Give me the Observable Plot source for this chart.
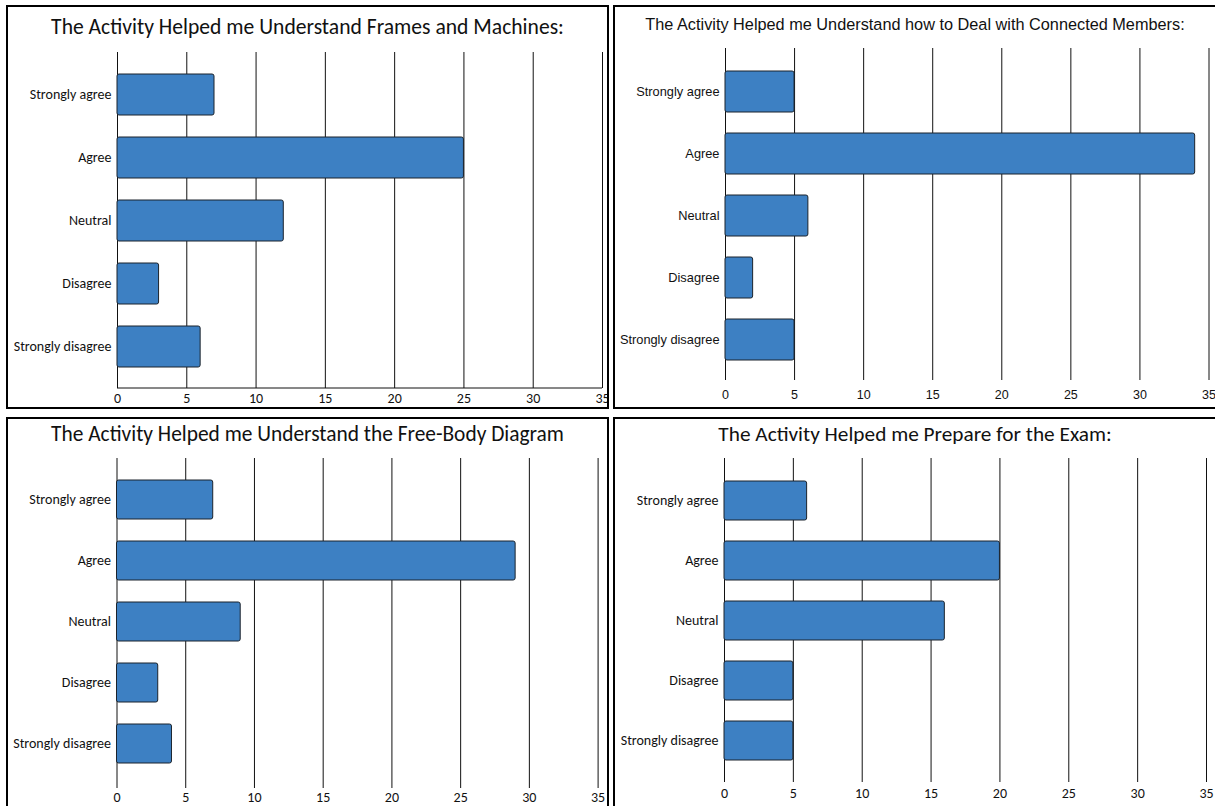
<!DOCTYPE html>
<html>
<head>
<meta charset="utf-8">
<script src="https://cdn.jsdelivr.net/npm/d3@7"></script>
<script src="https://cdn.jsdelivr.net/npm/@observablehq/plot@0.6"></script>
<style>
  html, body { margin: 0; padding: 0; background: #fff; width: 1215px; height: 806px; overflow: hidden; }
  .panel { position: absolute; box-sizing: border-box; border: 2px solid #000; background: #fff; overflow: hidden; }
  .title { text-align: center; white-space: nowrap; color: #111; }
  .calibri { font-family: Carlito, Lato, "Open Sans", sans-serif; }
  .arial { font-family: "Liberation Sans", Arial, sans-serif; }
  svg { display: block; }
  .calibri-panel svg g[aria-label="y-axis tick label"] text { font-size: 14px !important; font-family: Carlito, Lato, sans-serif !important; }
  .calibri-panel svg g[aria-label="x-axis tick label"] text { font-size: 14px !important; font-family: Carlito, Lato, sans-serif !important; }
  .arial-panel svg g[aria-label="y-axis tick label"] text { font-size: 12.8px !important; font-family: "Liberation Sans", Arial, sans-serif !important; }
  .arial-panel svg g[aria-label="x-axis tick label"] text { font-size: 12.5px !important; font-family: "Liberation Sans", Arial, sans-serif !important; }
  svg g[aria-label$="tick label"] text { fill: #111; }
</style>
</head>
<body>
<script>
const categories = ["Strongly agree", "Agree", "Neutral", "Disagree", "Strongly disagree"];
const framesMachines = [7, 25, 12, 3, 6];
const connectedMembers = [5, 34, 6, 2, 5];
const freeBodyDiagram = [7, 29, 9, 3, 4];
const examPreparation = [6, 20, 16, 5, 5];
const xTicks = [0, 5, 10, 15, 20, 25, 30, 35];
const titles = [
  "The Activity Helped me Understand Frames and Machines:",
  "The Activity Helped me Understand how to Deal with Connected Members:",
  "The Activity Helped me Understand the Free-Body Diagram",
  "The Activity Helped me Prepare for the Exam:"
];

const barFill = "#3d80c3";
const barStroke = "#1b232c";

const panels = [
  {values: framesMachines, title: titles[0], font: "calibri", titleSize: 21.6, titleH: 40,
   box: [6, 5, 603, 404], svgH: 360, mt: 5, mb: 19, ml: 109, mr: 5,
   pi: 0.349, po: 0.341, align: 0.51, tickPad: 5, baseLine: true},
  {values: connectedMembers, title: titles[1], font: "arial", titleSize: 16.3, titleH: 34,
   box: [613, 5, 604, 404], svgH: 366, mt: 7, mb: 27, ml: 110, mr: 6.5,
   pi: 0.335, po: 0.33, align: 0.54, tickPad: 10, baseLine: false},
  {values: freeBodyDiagram, title: titles[2], font: "calibri", titleSize: 21.4, titleH: 30,
   box: [6, 417, 603, 400], svgH: 363, mt: 9, mb: 24, ml: 108.5, mr: 9.4,
   pi: 0.354, po: 0.376, align: 0.48, tickPad: 4, baseLine: false},
  {values: examPreparation, title: titles[3], font: "calibri", titleSize: 21.3, titleH: 30,
   box: [613, 417, 604, 400], svgH: 363, mt: 9, mb: 30, ml: 109, mr: 9,
   pi: 0.35, po: 0.337, align: 0.5, tickPad: 6, baseLine: false}
];

const fontStacks = {
  calibri: 'Carlito, Lato, "Open Sans", sans-serif',
  arial: '"Liberation Sans", Arial, sans-serif'
};

for (const p of panels) {
  const [left, top, w, h] = p.box;
  const div = document.createElement("div");
  div.className = "panel " + p.font + "-panel";
  Object.assign(div.style, {left: left + "px", top: top + "px", width: w + "px", height: h + "px"});

  const t = document.createElement("div");
  t.className = "title " + p.font;
  Object.assign(t.style, {height: p.titleH + "px", lineHeight: p.titleH + "px", fontSize: p.titleSize + "px"});
  t.textContent = p.title;
  div.appendChild(t);

  const data = categories.map((c, i) => ({category: c, value: p.values[i]}));
  const innerW = w - 4;

  const marks = [
    Plot.ruleX(xTicks, {stroke: "#111", strokeWidth: 1}),
    Plot.barX(data, {x: "value", y: "category", fill: barFill, stroke: barStroke, strokeWidth: 1, rx: 2})
  ];
  if (p.baseLine) {
    marks.push((index, scales, values, dims) => {
      const ns = "http://www.w3.org/2000/svg";
      const line = document.createElementNS(ns, "line");
      const yb = dims.height - dims.marginBottom;
      line.setAttribute("x1", scales.x(xTicks[0]));
      line.setAttribute("x2", scales.x(xTicks[xTicks.length - 1]));
      line.setAttribute("y1", yb);
      line.setAttribute("y2", yb);
      line.setAttribute("stroke", "#111");
      return line;
    });
  }

  const svg = Plot.plot({
    width: innerW,
    height: p.svgH,
    marginTop: p.mt,
    marginBottom: p.mb,
    marginLeft: p.ml,
    marginRight: p.mr,
    style: {fontFamily: fontStacks[p.font], fontSize: "12px", color: "#111", background: "transparent", overflow: "visible"},
    x: {domain: [0, 35], ticks: xTicks, tickSize: 0, tickPadding: p.tickPad, label: null},
    y: {domain: categories, paddingInner: p.pi, paddingOuter: p.po, align: p.align, tickSize: 0, tickPadding: 6, label: null},
    marks
  });
  div.appendChild(svg);
  document.body.appendChild(div);
}
</script>
</body>
</html>
